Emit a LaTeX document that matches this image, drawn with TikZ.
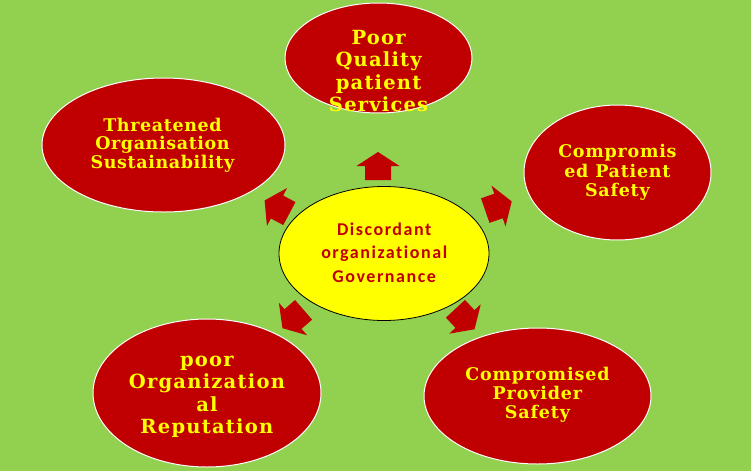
\documentclass[tikz,border=0pt]{standalone}
\usepackage{fontspec}
\usetikzlibrary{shapes.geometric}
\newfontfamily\dvs{DejaVu Serif}
\newfontfamily\crl[Ligatures=NoCommon]{Carlito}
\definecolor{bggreen}{HTML}{92D050}
\definecolor{darkred}{HTML}{C00000}
\definecolor{yel}{HTML}{FFFF00}
\tikzset{
  outer/.style={ellipse, fill=darkred, draw=white, line width=1pt, inner sep=0pt},
  centre/.style={ellipse, fill=yel, draw=black, line width=0.8pt, inner sep=0pt},
  outertext/.style={text=yel, align=center, inner sep=0pt},
  centretext/.style={text=darkred, align=center, inner sep=0pt,
    font={\crl\bfseries\fontsize{18}{23.3}\selectfont\addfontfeature{LetterSpace=8.5}}},
  blockarrow/.style={fill=darkred}
}
\newcommand\barrow[3]{%
  \fill[blockarrow, shift={(#1,#2)}, rotate=#3]
    (14pt,0pt) -- (0pt,21.5pt) -- (0pt,13pt) -- (-14pt,13pt) -- (-14pt,-13pt)
    -- (0pt,-13pt) -- (0pt,-21.5pt) -- cycle;}
\begin{document}
\begin{tikzpicture}[x=1pt,y=-1pt]
\useasboundingbox (0,0) rectangle (751,471);
\fill[bggreen] (0,0) rectangle (751,471);

% ellipses
\node[outer, minimum width=187pt, minimum height=110pt] (top) at (378.5,58) {};
\node[outer, minimum width=243pt, minimum height=134pt] (tl) at (163.5,145) {};
\node[outer, minimum width=187pt, minimum height=135pt] (rt) at (617.5,172.5) {};
\node[outer, minimum width=227pt, minimum height=136pt] (br) at (537.5,396) {};
\node[outer, minimum width=228pt, minimum height=148pt] (bl) at (207,393) {};
\node[centre, minimum width=210pt, minimum height=134pt] (ctr) at (384,253.5) {};

% texts
\node[outertext, font={\dvs\bfseries\fontsize{19.5}{22.5}\selectfont\addfontfeature{LetterSpace=6.2}}] (toptxt) at (378.6,70.9)
  {Poor\\Quality\\patient\\Services};
\node[outertext, font={\dvs\bfseries\fontsize{17.5}{18.6}\selectfont\addfontfeature{LetterSpace=3.5}}] (tltxt) at (162.5,144.9)
  {Threatened\\Organisation\\Sustainability};
\node[outertext, font={\dvs\bfseries\fontsize{17.5}{19.5}\selectfont\addfontfeature{LetterSpace=4.3}}] (rttxt) at (617.4,172.5)
  {Compromis\\ed Patient\\Safety};
\node[outertext, font={\dvs\bfseries\fontsize{17.5}{18.8}\selectfont\addfontfeature{LetterSpace=4.9}}] (brtxt) at (537.4,394.9)
  {Compromised\\Provider\\Safety};
\node[outertext, font={\dvs\bfseries\fontsize{19.5}{22.5}\selectfont\addfontfeature{LetterSpace=6.4}}] (bltxt) at (206.9,396.7)
  {poor\\Organization\\al\\Reputation};
\node[centretext] (ctrtxt) at (384.2,252.5)
  {Discordant\\organizational\\Governance};

% block arrows
\barrow{378}{166}{90}
\barrow{277}{207}{152}
\barrow{498.5}{206}{19}
\barrow{293}{319}{-139}
\barrow{465}{319}{-47}
\end{tikzpicture}
\end{document}
